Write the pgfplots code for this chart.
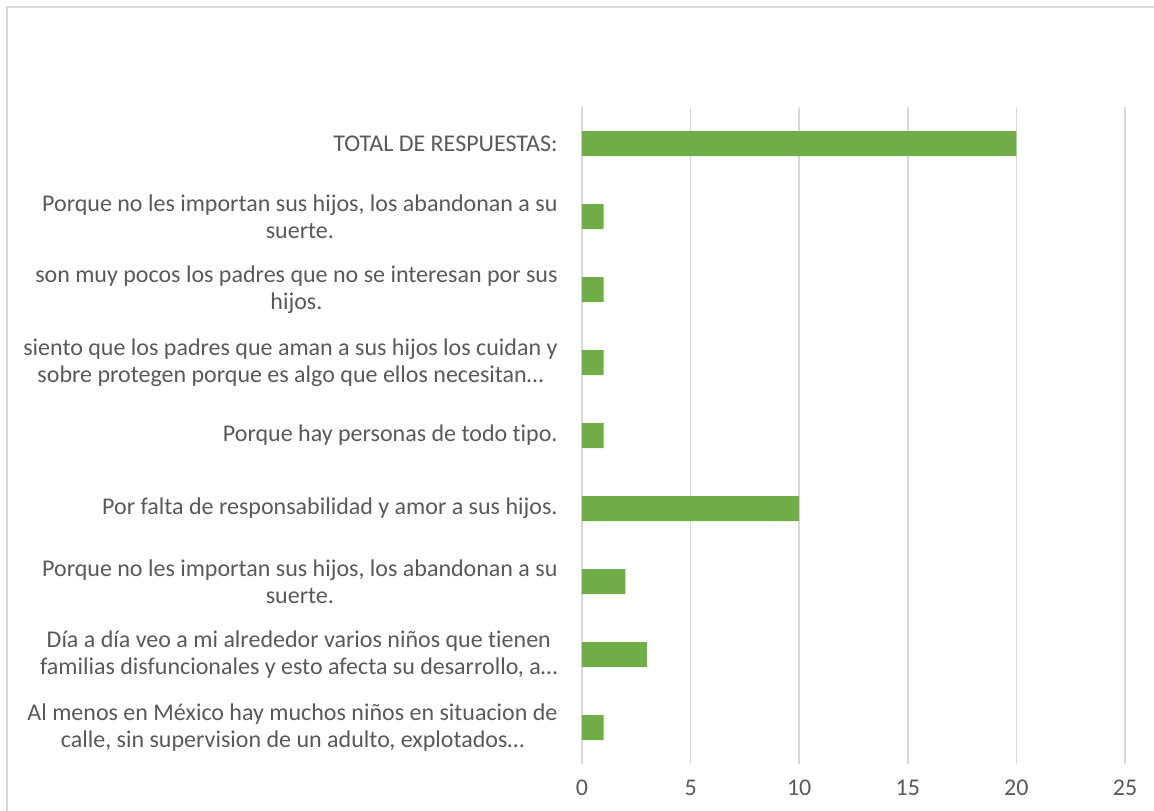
\documentclass[border=0pt]{standalone}
\usepackage{fontspec}
\setmainfont[Ligatures=NoCommon]{Carlito}
\usepackage{pgfplots}
\pgfplotsset{compat=1.18}
\definecolor{bargreen}{HTML}{70AD47}
\definecolor{txtgray}{HTML}{595959}
\definecolor{gridgray}{HTML}{D9D9D9}
\begin{document}
\begin{tikzpicture}
\useasboundingbox (-291pt,-23pt) rectangle (286pt,382pt);
\draw[gridgray,line width=1pt] (-287.5pt,-30pt) -- (-287.5pt,378.5pt) -- (290pt,378.5pt);
\begin{axis}[
  at={(0,0)},anchor=south west,
  scale only axis,width=271.5pt,height=328.5pt,
  xbar,bar width=12.5pt,
  xmin=0,xmax=25,ymin=-0.5,ymax=8.5,
  xtick={0,5,10,15,20,25},
  ytick={0,...,8},
  yticklabels={
    {Al menos en México hay muchos niños en situacion de\\calle, sin supervision de un adulto, explotados…},
    {Día a día veo a mi alrededor varios niños que tienen\\familias disfuncionales y esto afecta su desarrollo, a…},
    {Porque no les importan sus hijos, los abandonan a su\\suerte.},
    {Por falta de responsabilidad y amor a sus hijos.},
    {Porque hay personas de todo tipo.},
    {siento que los padres que aman a sus hijos los cuidan y\\sobre protegen porque es algo que ellos necesitan…},
    {son muy pocos los padres que no se interesan por sus\\hijos.},
    {Porque no les importan sus hijos, los abandonan a su\\suerte.},
    {TOTAL DE RESPUESTAS:}},
  axis line style={draw=none},
  major tick length=0pt,
  xmajorgrids,
  grid style={gridgray,line width=0.75pt},
  tick label style={text=txtgray,font={\fontsize{12}{13.5}\selectfont}},
  yticklabel style={align=center,inner sep=0pt,xshift=-12pt},
  xticklabel style={inner sep=0pt,yshift=-8pt},
  /pgf/number format/assume math mode=true,
]
\addplot[fill=bargreen,draw=none] coordinates {
  (1,0) (3,1) (2,2) (10,3) (1,4) (1,5) (1,6) (1,7) (20,8)};
\end{axis}
\end{tikzpicture}
\end{document}
